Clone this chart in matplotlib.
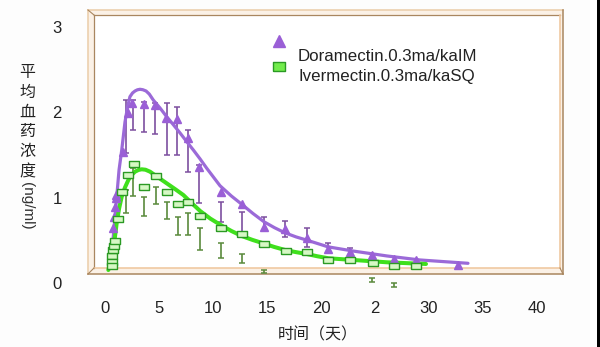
import matplotlib
matplotlib.use("Agg")
import matplotlib.pyplot as plt
from matplotlib.patches import Rectangle
from matplotlib.lines import Line2D

plt.rcParams['font.family'] = ['Liberation Sans', 'Noto Sans CJK SC', 'DejaVu Sans']

# ---------------- data ----------------
x_ticks = [0, 5, 10, 15, 20, 25, 30, 35, 40]
x_tick_labels = ["0", "5", "10", "15", "20", "2", "30", "35", "40"]
y_ticks = [0, 1, 2, 3]
y_tick_labels = ["0", "1", "2", "3"]

legend_labels = ["Doramectin.0.3ma/kaIM", "Ivermectin.0.3ma/kaSQ"]
x_label = "时间（天）"
y_label_cjk = "平均血药浓度"
y_label_unit = "(ng/ml)"

# Doramectin (purple triangles)
dor_t = [0.74, 0.83, 0.93, 1.02, 1.06, 1.69, 2.16, 2.47, 3.61, 4.63, 5.69, 6.69,
         7.64, 8.70, 10.71, 12.66, 14.72, 16.67, 18.73, 20.68, 22.69, 24.69,
         26.76, 28.80, 32.71]
dor_c = [0.645, 0.774, 0.891, 0.997, 1.03, 1.54, 1.99, 2.11, 2.10, 2.09, 1.93, 1.92,
         1.70, 1.36, 1.07, 0.926, 0.66, 0.63, 0.524, 0.404, 0.367, 0.328,
         0.278, 0.27, 0.211]
# Doramectin error bars (x, low, high)
dor_bar_t = [1.94, 2.62, 3.61, 4.63, 5.71, 6.69, 7.64, 8.73, 10.71, 12.66, 14.72,
             16.67, 18.73, 20.68, 22.69]
dor_bar_lo = [1.524, 1.794, 1.774, 1.747, 1.50, 1.50, 1.301, 0.938, 0.719, 0.583,
              0.621, 0.543, 0.426, 0.348, 0.328]
dor_bar_hi = [2.145, 2.145, 2.125, 2.11, 2.11, 2.063, 1.794, 1.383, 0.953, 0.836,
              0.774, 0.730, 0.645, 0.472, 0.414]
# Doramectin fitted curve
dor_fit_t = [0.46, 0.74, 1.02, 1.30, 1.55, 1.85, 2.10, 2.31, 2.55, 2.78, 3.00, 3.24,
             3.50, 3.80, 4.10, 4.47, 5.09, 5.71, 6.30, 6.94, 7.55, 8.18, 8.80, 9.42,
             10.05, 10.65, 11.70, 12.69, 13.70, 14.72, 15.70, 16.67, 17.70, 18.70,
             19.70, 20.65, 22.96, 26.11, 29.17, 33.61]
dor_fit_c = [0.246, 0.504, 0.914, 1.325, 1.559, 1.887, 2.07, 2.184, 2.228, 2.251,
             2.265, 2.271, 2.266, 2.251, 2.215, 2.145, 2.052, 1.950, 1.86, 1.760,
             1.66, 1.559, 1.455, 1.345, 1.24, 1.14, 1.02, 0.92, 0.815, 0.718,
             0.648, 0.588, 0.54, 0.502, 0.462, 0.424, 0.375, 0.317, 0.270, 0.231]

# Ivermectin (green squares)
ive_t = [0.62, 0.65, 0.68, 0.77, 0.83, 0.93, 1.23, 1.60, 2.16, 2.69, 3.64, 4.72,
         5.71, 6.73, 7.71, 8.77, 10.71, 12.69, 14.72, 16.76, 18.68, 20.62, 22.69,
         24.79, 26.76, 28.80]
ive_c = [0.317, 0.246, 0.199, 0.387, 0.437, 0.496, 0.747, 1.07, 1.266, 1.395, 1.122,
         1.254, 1.063, 0.926, 0.953, 0.785, 0.645, 0.578, 0.454, 0.375, 0.360,
         0.270, 0.270, 0.231, 0.199, 0.199]
ive_bar_t = [0.93, 1.94, 2.59, 3.61, 4.72, 5.74, 6.76, 7.69, 8.75, 10.71, 12.69,
             14.72, 24.69, 26.76]
ive_bar_lo = [0.211, 0.82, 1.02, 0.785, 0.926, 0.75, 0.563, 0.563, 0.387, 0.297,
              0.231, 0.117, 0.012, -0.047]
ive_bar_hi = [0.317, 1.09, 1.348, 1.008, 1.125, 0.95, 0.774, 0.82, 0.645, 0.472,
              0.34, 0.152, 0.059, 0.0]
ive_fit_t = [0.31, 0.77, 1.08, 1.30, 1.55, 1.85, 2.16, 2.45, 2.78, 3.10, 3.40, 3.75,
             4.17, 4.90, 5.71, 6.50, 7.25, 8.00, 8.80, 9.75, 10.71, 11.70, 12.66,
             13.66, 14.66, 15.66, 16.67, 17.68, 18.68, 19.68, 20.68, 22.99, 26.08,
             29.72]
ive_fit_c = [0.152, 0.387, 0.700, 0.870, 1.012, 1.120, 1.207, 1.265, 1.305, 1.325,
             1.333, 1.328, 1.305, 1.24, 1.169, 1.10, 1.032, 0.94, 0.845, 0.755,
             0.680, 0.610, 0.551, 0.505, 0.465, 0.423, 0.387, 0.362, 0.340, 0.313,
             0.290, 0.270, 0.243, 0.223]

# ---------------- layout ----------------
W, H = 600, 347
fig = plt.figure(figsize=(6.0, 3.47), dpi=100)
fig.patch.set_facecolor('#fdfdfd')

def fx(px):
    return px / W

def fy(py):
    return 1 - py / H

ax_l, ax_r, ax_t, ax_b = 88, 563, 10, 290
ax = fig.add_axes([fx(ax_l), fy(ax_b), (ax_r - ax_l) / W, (ax_b - ax_t) / H])
x0px, xscale = 105, 10.8
y0px, yscale = 283, 85.3
ax.set_xlim((ax_l - x0px) / xscale, (ax_r - x0px) / xscale)
ax.set_ylim((y0px - ax_b) / yscale, (y0px - ax_t) / yscale)
ax.patch.set_visible(False)
for s in ax.spines.values():
    s.set_visible(False)

# frame (3D-like tan box)
tf = fig.transFigure
def frect(x1, y1, x2, y2, **kw):
    r = Rectangle((fx(x1), fy(y2)), fx(x2) - fx(x1), fy(y1) - fy(y2),
                  transform=tf, clip_on=False, **kw)
    ax.add_artist(r)

def fline(x1, y1, x2, y2, **kw):
    ax.add_artist(Line2D([fx(x1), fx(x2)], [fy(y1), fy(y2)], transform=tf,
                         clip_on=False, **kw))

frect(88, 10, 563, 274, facecolor='#fbf1e6', edgecolor='none', zorder=0.1)
frect(94, 15, 560, 268, facecolor='white', edgecolor='none', zorder=0.2)
light = '#ecd0ae'
dark = '#a9865f'
fline(88, 10, 563, 10, color=light, lw=1.2, zorder=0.3)
fline(88, 10, 88, 274, color=light, lw=1.2, zorder=0.3)
fline(94, 15, 560, 15, color=dark, lw=0.9, zorder=0.3)
fline(94, 15, 94, 268, color=dark, lw=0.9, zorder=0.3)
fline(94, 268, 560, 268, color='#f0c9a2', lw=1.2, zorder=0.3)
fline(560, 15, 560, 268, color='#f0c9a2', lw=1.2, zorder=0.3)
fline(88, 274, 563, 274, color=dark, lw=1.1, zorder=0.3)
fline(563, 10, 563, 274, color=dark, lw=1.1, zorder=0.3)
fline(88, 10, 94, 15, color=dark, lw=0.8, zorder=0.3)
fline(88, 274, 94, 268, color=dark, lw=0.8, zorder=0.3)
fline(563, 274, 560, 268, color=dark, lw=0.8, zorder=0.3)

# right black border of the picture
ax.add_artist(Rectangle((fx(597), 0), fx(600) - fx(597), 1, transform=tf,
                        facecolor='black', edgecolor='none', clip_on=False, zorder=0.3))

# ---------------- series ----------------
purple_line = '#9b6ad8'
purple_mark = '#9a5fd6'
purple_bar = '#7d4f9f'
green_line = '#3fe01c'
green_edge = '#2b9a24'
green_face = '#d6f8c4'
green_bar = '#5a8a3c'

ax.errorbar(dor_bar_t, [(a + b) / 2 for a, b in zip(dor_bar_lo, dor_bar_hi)],
            yerr=[(b - a) / 2 for a, b in zip(dor_bar_lo, dor_bar_hi)],
            fmt='none', ecolor=purple_bar, elinewidth=1.2, capsize=2.4,
            capthick=1.1, zorder=2, clip_on=False)
ax.errorbar(ive_bar_t, [(a + b) / 2 for a, b in zip(ive_bar_lo, ive_bar_hi)],
            yerr=[(b - a) / 2 for a, b in zip(ive_bar_lo, ive_bar_hi)],
            fmt='none', ecolor=green_bar, elinewidth=1.2, capsize=2.4,
            capthick=1.1, zorder=2, clip_on=False)

ax.plot(dor_fit_t, dor_fit_c, color=purple_line, lw=2.3, zorder=3,
        solid_capstyle='round', solid_joinstyle='round')
ax.plot(ive_fit_t, ive_fit_c, color=green_line, lw=2.9, zorder=3,
        solid_capstyle='round', solid_joinstyle='round')

rect_marker = [(-1, -0.72), (1, -0.72), (1, 0.72), (-1, 0.72), (-1, -0.72)]
ax.plot(dor_t, dor_c, linestyle='none', marker='^', markersize=6,
        markerfacecolor=purple_mark, markeredgecolor=purple_mark, zorder=4)
ax.plot(ive_t, ive_c, linestyle='none', marker=rect_marker, markersize=6.5,
        markerfacecolor=green_face, markeredgecolor=green_edge,
        markeredgewidth=1.0, zorder=4)

# ---------------- legend (manual, as in picture) ----------------
def dx(px):
    return (px - x0px) / xscale

def dy(py):
    return (y0px - py) / yscale

ax.plot([dx(279)], [dy(41)], linestyle='none', marker='^', markersize=8,
        markerfacecolor=purple_mark, markeredgecolor=purple_mark, zorder=5)
ax.plot([dx(279)], [dy(66)], linestyle='none', marker=rect_marker, markersize=9,
        markerfacecolor='#72ec4c', markeredgecolor=green_edge,
        markeredgewidth=1.0, zorder=5)
ax.text(dx(298), dy(57), legend_labels[0], fontsize=12.2, color='#222222',
        ha='left', va='center', zorder=5)
ax.text(dx(298), dy(77), legend_labels[1], fontsize=12.2, color='#222222',
        ha='left', va='center', zorder=5)

# ---------------- ticks / labels ----------------
ax.set_xticks(x_ticks)
ax.set_xticklabels(x_tick_labels)
ax.set_yticks(y_ticks)
ax.set_yticklabels(y_tick_labels)
ax.tick_params(axis='x', length=0, pad=8, labelsize=12, labelcolor='#222222')
ax.tick_params(axis='y', length=0, pad=19, labelsize=12, labelcolor='#222222')

fig.text(fx(318), fy(335), x_label, fontsize=11.5, color='#222222',
         ha='center', va='center', family=['Noto Sans CJK SC', 'DejaVu Sans'])
fig.text(fx(27), fy(122), "\n".join(y_label_cjk), fontsize=11.5, color='#222222',
         ha='center', va='center', linespacing=1.22,
         family=['Noto Sans CJK SC', 'DejaVu Sans'])
fig.text(fx(27), fy(206), y_label_unit, fontsize=11, color='#333333',
         ha='center', va='center', rotation=270)

fig.savefig("out.png", dpi=100)
